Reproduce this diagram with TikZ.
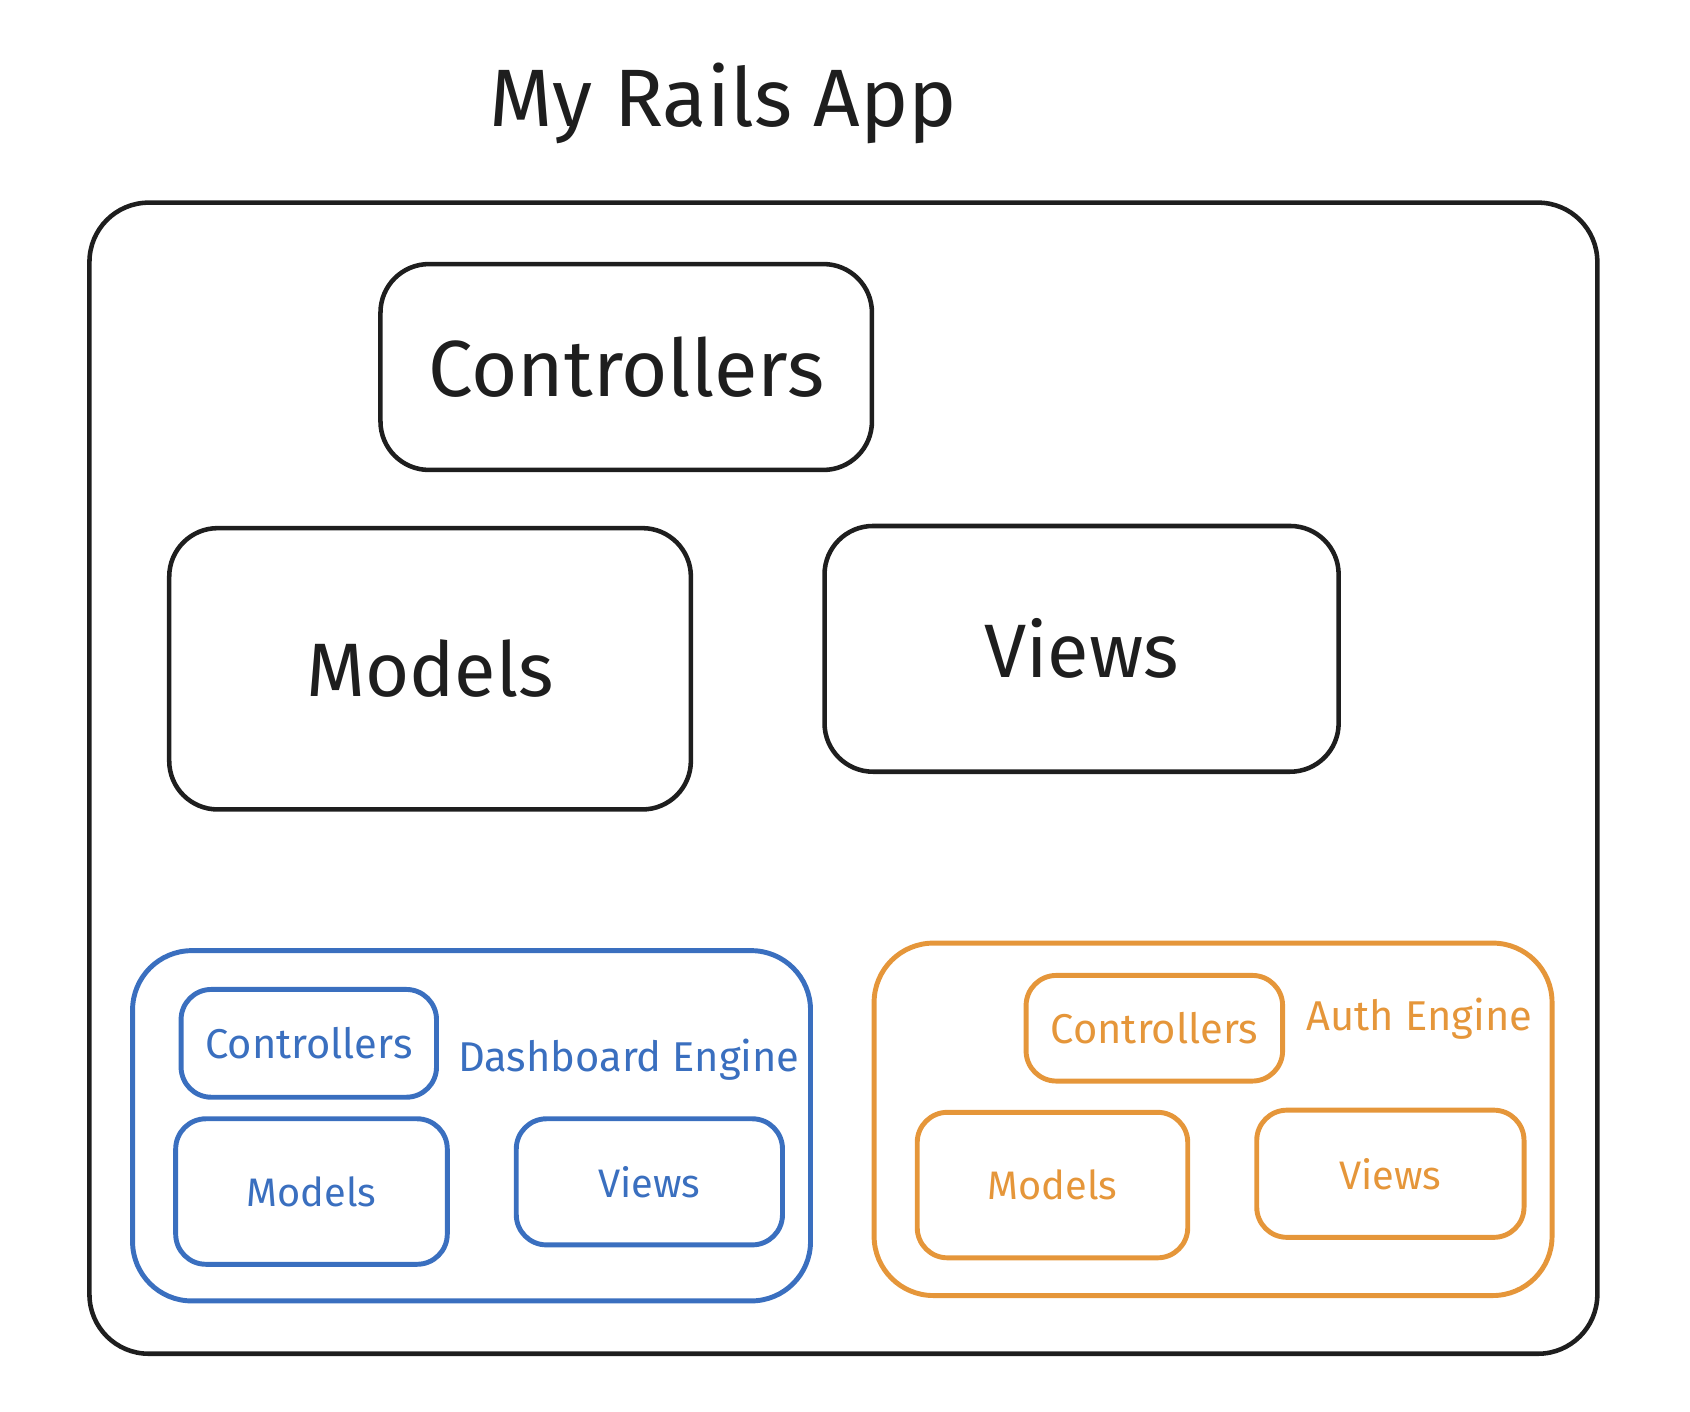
\documentclass[tikz,border=0pt]{standalone}
\usepackage{fontspec}
\setmainfont{Fira Sans}
\definecolor{ink}{HTML}{1E1E1E}
\definecolor{dashblue}{HTML}{3A6FBF}
\definecolor{authorange}{HTML}{E5963A}
\begin{document}
\begin{tikzpicture}[
  x=1cm,y=-1cm,
  every node/.style={text=ink,inner sep=0pt},
  box/.style={draw=ink,line width=1.2pt,rounded corners=0.45cm},
  big/.style={box,font=\fontsize{20}{24}\selectfont},
  small/.style={rounded corners=0.28cm,line width=1.3pt,font=\fontsize{10.5}{13}\selectfont},
  frame/.style={line width=1.3pt,rounded corners=0.55cm},
  dash node/.style={draw=dashblue,text=dashblue},
  auth node/.style={draw=authorange,text=authorange},
  ]
  \useasboundingbox (0,0) rectangle (15.68,13.10);
  \node[font=\fontsize{21.5}{26}\selectfont,anchor=base](title) at (6.71,1.17){My Rails App};
  \node[box,rounded corners=0.55cm,minimum width=13.99cm,minimum height=10.68cm](app) at (7.825,7.22){};
  \node[big,font=\fontsize{21}{25}\selectfont,minimum width=4.56cm,minimum height=1.91cm](ctrl) at (5.81,3.405){Controllers};
  \node[big,minimum width=4.84cm,minimum height=2.61cm](models) at (3.99,6.205){Models};
  \node[big,minimum width=4.77cm,minimum height=2.28cm](views) at (10.035,6.02){Views};
  % dashboard engine
  \node[frame,dash node,minimum width=6.29cm,minimum height=3.25cm](dash) at (4.375,10.445){};
  \node[small,dash node,font=\fontsize{11}{13}\selectfont,minimum width=2.37cm,minimum height=1.0cm](dctrl) at (2.865,9.68){Controllers};
  \node[small,dash node,minimum width=2.52cm,minimum height=1.35cm](dmodels) at (2.89,11.055){Models};
  \node[small,dash node,minimum width=2.47cm,minimum height=1.17cm](dviews) at (6.025,10.965){Views};
  \node[font=\fontsize{11}{13}\selectfont,text=dashblue](dlabel) at (5.835,9.83){Dashboard Engine};
  % auth engine
  \node[frame,auth node,minimum width=6.29cm,minimum height=3.27cm](auth) at (11.255,10.385){};
  \node[small,auth node,font=\fontsize{11}{13}\selectfont,minimum width=2.38cm,minimum height=0.98cm](actrl) at (10.71,9.54){Controllers};
  \node[small,auth node,minimum width=2.51cm,minimum height=1.35cm](amodels) at (9.765,10.995){Models};
  \node[small,auth node,minimum width=2.48cm,minimum height=1.18cm](aviews) at (12.9,10.89){Views};
  \node[font=\fontsize{11}{13}\selectfont,text=authorange](alabel) at (13.17,9.45){Auth Engine};
\end{tikzpicture}
\end{document}
